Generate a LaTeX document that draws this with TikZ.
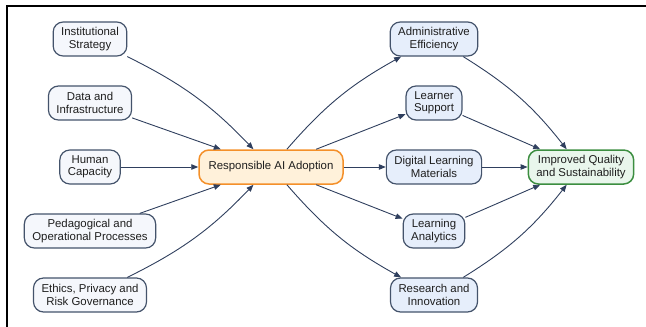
\documentclass[tikz,border=0pt]{standalone}
\usepackage{fontspec}
\setmainfont{Liberation Sans}
\usetikzlibrary{arrows.meta}
\definecolor{edgecol}{HTML}{2F3F5E}
\definecolor{boxline}{HTML}{44536B}
\definecolor{infill}{HTML}{F5F7FC}
\definecolor{outfill}{HTML}{E6EEFB}
\definecolor{corefill}{HTML}{FFF1DA}
\definecolor{coreline}{HTML}{F4902A}
\definecolor{goalfill}{HTML}{E9F6EC}
\definecolor{goalline}{HTML}{3C8E40}
\definecolor{txt}{HTML}{1E1E1E}
\begin{document}
\begin{tikzpicture}[x=1pt,y=-1pt,
  box/.style={draw=boxline, line width=1.2pt, rounded corners=10pt, align=center,
    minimum height=34pt, inner xsep=8pt, inner ysep=3pt, text=txt,
    font=\fontsize{11.4}{12.5}\selectfont},
  inbox/.style={box, fill=infill},
  outbox/.style={box, fill=outfill},
  corebox/.style={box, draw=coreline, fill=corefill, line width=1.5pt},
  goalbox/.style={box, draw=goalline, fill=goalfill, line width=1.5pt},
  link/.style={draw=edgecol, line width=0.9pt, -{Triangle[length=7pt,width=5.5pt]}}]
\useasboundingbox (0,0) rectangle (646,327);
% frame edges
\draw[line width=1.5pt] (7,327) -- (7,6) -- (646,6);

% drivers
\node[inbox] (strat) at (90,39)  {Institutional\\Strategy};
\node[inbox] (data)  at (90,103) {Data and\\Infrastructure};
\node[inbox] (human) at (90,167) {Human\\Capacity};
\node[inbox] (proc)  at (90,231) {Pedagogical and\\Operational Processes};
\node[inbox] (eth)   at (90,295) {Ethics, Privacy and\\Risk Governance};

% core
\node[corebox, minimum width=144pt] (ai) at (271,167) {Responsible AI Adoption};

% outcomes
\node[outbox] (adm)  at (434,39)  {Administrative\\Efficiency};
\node[outbox] (lern) at (434,103) {Learner\\Support};
\node[outbox] (dig)  at (434,167) {Digital Learning\\Materials};
\node[outbox] (ana)  at (434,231) {Learning\\Analytics};
\node[outbox] (res)  at (434,295) {Research and\\Innovation};

% goal
\node[goalbox] (goal) at (581,167) {Improved Quality\\and Sustainability};

% drivers into core
\draw[link] (strat) to[bend left=10] (ai);
\draw[link] (data) -- (ai);
\draw[link] (human) -- (ai);
\draw[link] (proc) -- (ai);
\draw[link] (eth) to[bend right=10] (ai);

% core into outcomes
\draw[link] (ai) to[bend left=10] (adm);
\draw[link] (ai) -- (lern);
\draw[link] (ai) -- (dig);
\draw[link] (ai) -- (ana);
\draw[link] (ai) to[bend right=10] (res);

% outcomes into goal
\draw[link] (adm) to[bend left=10] (goal);
\draw[link] (lern) -- (goal);
\draw[link] (dig) -- (goal);
\draw[link] (ana) -- (goal);
\draw[link] (res) to[bend right=10] (goal);
\end{tikzpicture}
\end{document}
